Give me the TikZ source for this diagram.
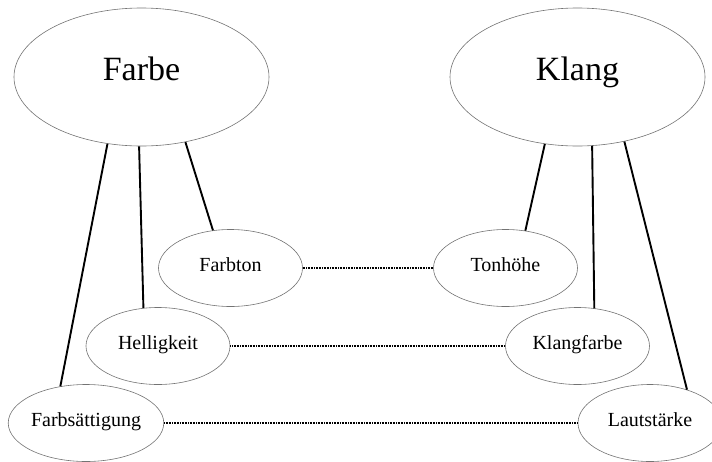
\documentclass[tikz,border=0pt]{standalone}
\usepackage{fontspec}
\setmainfont{Liberation Serif}
\usetikzlibrary{shapes.geometric}
\begin{document}
\begin{tikzpicture}[x=1pt,y=-1pt,
  big/.style={ellipse,draw=black!55,line width=0.6pt,minimum width=255pt,minimum height=138pt,inner sep=0pt,text height=0.7em,text depth=0.1em,font=\fontsize{34}{40}\selectfont},
  small/.style={ellipse,draw=black!55,line width=0.6pt,minimum width=144pt,minimum height=77pt,inner sep=0pt,text height=0.7em,text depth=0.1em,font=\fontsize{20}{24}\selectfont},
  link/.style={line width=1.9pt,black},
  pair/.style={line width=1.4pt,black,dash pattern=on 0.9pt off 0.7pt}]
\useasboundingbox (0,0) rectangle (712,461);
\node[big] (farbe) at (141.5,77) {Farbe};
\node[big] (klang) at (577.5,77) {Klang};
\node[small] (farbton) at (230.5,268) {Farbton};
\node[small] (tonhoehe) at (505.5,268) {Tonhöhe};
\node[small] (hell) at (158,346) {Helligkeit};
\node[small] (klangfarbe) at (577.5,346) {Klangfarbe};
\node[small] (fs) at (86,423) {Farbsättigung};
\node[small] (laut) at (650,423) {Lautstärke};
\draw[link] (farbe.243) -- (fs.125.5);
\draw[link] (farbe.268.5) -- (hell.111.5);
\draw[link] (farbe.304) -- (farbton.115.3);
\draw[link] (klang.244.5) -- (tonhoehe.62.2);
\draw[link] (klang.282) -- (klangfarbe.66.5);
\draw[link] (klang.306.4) -- (laut.42.5);
\draw[pair] (farbton.east) -- (tonhoehe.west);
\draw[pair] (hell.east) -- (klangfarbe.west);
\draw[pair] (fs.east) -- (laut.west);
\end{tikzpicture}
\end{document}
